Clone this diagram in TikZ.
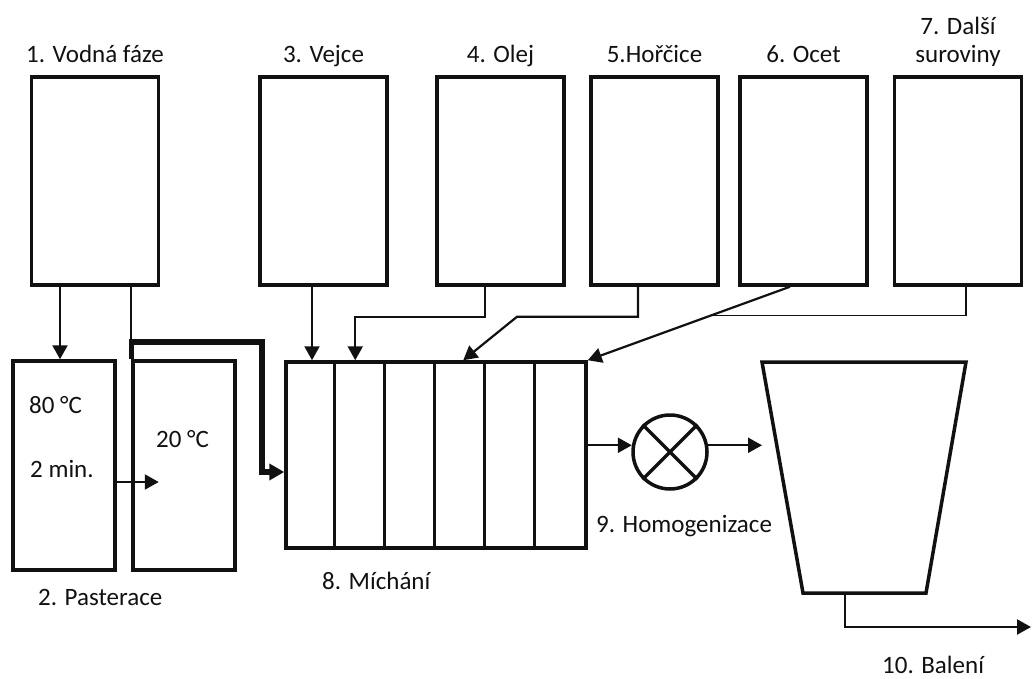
\documentclass[tikz,border=0pt]{standalone}
\usepackage{fontspec}
\setmainfont{Carlito}
\usetikzlibrary{arrows.meta,positioning,calc}
\definecolor{procInk}{HTML}{111111}
\tikzset{
  every picture/.style={font=\fontsize{25}{28}\selectfont, text=procInk},
  proc tank/.style={draw=procInk, line width=3.5pt, minimum width=127pt,
    minimum height=208pt, inner sep=0pt},
  proc vessel/.style={draw=procInk, line width=3.5pt, minimum width=102pt,
    minimum height=209pt, inner sep=0pt},
  proc title/.style={inner sep=0pt, text depth=6pt, align=center},
  proc text/.style={inner sep=0pt, anchor=base west},
  proc arrow/.style={-{Triangle[length=14pt,width=15pt]},
    draw=procInk, line width=2.2pt},
  proc thin/.style={draw=procInk, line width=1.7pt},
  proc thick/.style={draw=procInk, line width=5.5pt},
  proc wall/.style={draw=procInk, line width=3.5pt}
}

\begin{document}
\begin{tikzpicture}[x=1pt,y=-1pt]
  \useasboundingbox (0,0) rectangle (1032,679);
  % raw materials
  \node[proc tank] (v1) at (95,181) {};
  \node[proc tank] (v3) at (323.5,181) {};
  \node[proc tank] (v4) at (500.5,181) {};
  \node[proc tank] (v5) at (654.5,181) {};
  \node[proc tank] (v6) at (803.5,181) {};
  \node[proc tank] (v7) at (958,181) {};
  \node[proc title, above=7pt of v1] {1. Vodná fáze};
  \node[proc title, above=7pt of v3] {3. Vejce};
  \node[proc title, above=7pt of v4] {4. Olej};
  \node[proc title, above=7pt of v5] {5.Hořčice};
  \node[proc title, above=7pt of v6] {6. Ocet};
  \node[proc title, above=7pt of v7] {7. Další\\suroviny};

  % pasteurisation
  \node[proc vessel] (p1) at (64,465.5) {};
  \node[proc vessel] (p2) at (184,465.5) {};
  \node[proc text] at (29,413) {80 °C};
  \node[proc text] at (30,477) {2 min.};
  \node[proc text] at (156,447) {20 °C};
  \node[proc text] at (38,605) {2. Pasterace};

  % mixer
  \node[proc wall, minimum width=300pt, minimum height=186pt, inner sep=0pt] (mix) at (436,455) {};
  \foreach \i in {1,...,5}
    \draw[proc wall] ([xshift=\i*50pt]mix.north west) -- ([xshift=\i*50pt]mix.south west);
  \node[proc text] at (322,589) {8. Míchání};

  % homogeniser
  \node[draw=procInk, line width=3.5pt, circle, minimum size=74pt, inner sep=0pt] (hom) at (670,452) {};
  \draw[proc wall] (hom.45) -- (hom.225) (hom.135) -- (hom.315);
  \node[proc text] at (596,532) {9. Homogenizace};

  % hopper
  \coordinate (tTL) at (762,362);
  \draw[proc wall] (tTL) -- (966,362) -- (926,593) -- (803,593) -- cycle;
  \coordinate (tout) at (845,593);
  \coordinate (pack) at (1031,627);
  \node[proc text] at (882,673) {10. Balení};

  % connectors
  \coordinate (v1a) at ([xshift=-35pt]v1.south);
  \coordinate (v3out) at ([xshift=-11.5pt]v3.south);
  \coordinate (v4out) at ([xshift=-15.5pt]v4.south);
  \coordinate (v5out) at ([xshift=-16.5pt]v5.south);
  \coordinate (v6out) at ([xshift=-13.5pt]v6.south);
  \coordinate (v7out) at ([xshift=8pt]v7.south);
  \coordinate (in4) at ([xshift=71pt]mix.north west);
  \coordinate (in5) at ([xshift=179pt]mix.north west);
  \coordinate (pipe) at (262,342);

  \draw[proc arrow] (v1a) -- (v1a |- p1.north);
  \draw[proc thin] (v1.south -| p2.north west) -- (p2.north west);
  \draw[proc thick, -{Triangle[length=15pt,width=16pt]}]
    (p2.north west) |- (pipe) |- ([yshift=-17pt]mix.west);
  \draw[proc arrow] (p1.east |- 0,482) -- ++(42,0);
  \draw[proc arrow] (v3out) -- (v3out |- mix.north);
  \draw[proc arrow] (v4out) -- ++(0,30) -| (in4);
  \draw[proc arrow] (v5out) -- ++(0,30) -- ++(-121,0) -- (in5);
  \draw[proc arrow] (v6out) -- (mix.north east);
  \draw[proc thin] (v7out) |- ($(v6out)!0.39!(mix.north east)$);
  \draw[proc arrow] (mix.east |- hom.170) -- (hom.170);
  \draw[proc arrow] (hom.10) -- (hom.10 -| tTL);
  \draw[proc arrow] (tout) |- (pack);
\end{tikzpicture}
\end{document}
